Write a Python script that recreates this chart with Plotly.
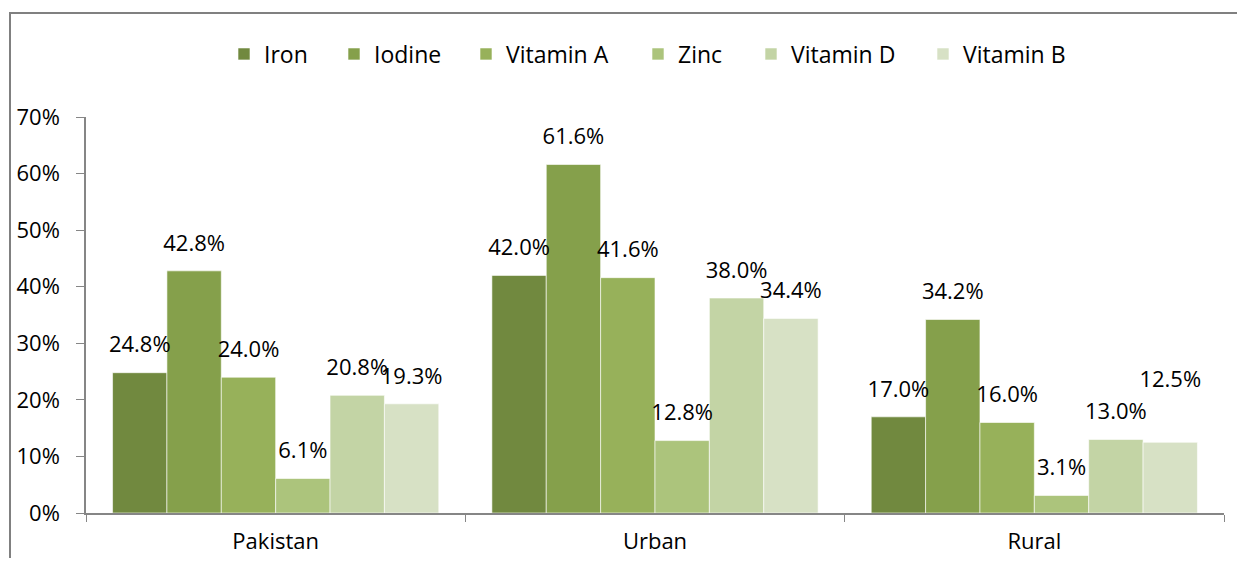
import plotly.graph_objects as go

categories = ["Pakistan", "Urban", "Rural"]
series_names = ["Iron", "Iodine", "Vitamin A", "Zinc", "Vitamin D", "Vitamin B"]
iron = [24.8, 42.0, 17.0]
iodine = [42.8, 61.6, 34.2]
vitamin_a = [24.0, 41.6, 16.0]
zinc = [6.1, 12.8, 3.1]
vitamin_d = [20.8, 38.0, 13.0]
vitamin_b = [19.3, 34.4, 12.5]
y_ticks = [0, 10, 20, 30, 40, 50, 60, 70]

series_values = [iron, iodine, vitamin_a, zinc, vitamin_d, vitamin_b]
colors = ["#71893F", "#85A04B", "#97B15A", "#ACC47C", "#C3D4A5", "#D7E1C5"]
# invisible spacer-marker sizes that lift each value label above its bar (style only)
label_lift = [[22, 22, 22], [22, 22, 22], [22, 22, 22], [22, 22, 22], [22, 22, 22], [22, 22, 78]]
# legend text start positions in page pixels (style only)
legend_px = [264, 374, 506, 678, 791, 963]

FONT = "Open Sans, Lato, sans-serif"
OFF = 8  # page body margin
W, H = 1229, 550
ml, mr, mt, mb = 86 - OFF, 13, 117 - OFF, 45
pw, ph = W - ml - mr, H - mt - mb


def px_x(x):
    return (x - OFF - ml) / pw


def px_y(y):
    return (H - mb - (y - OFF)) / ph


fig = go.Figure()
for i, (name, vals, col) in enumerate(zip(series_names, series_values, colors)):
    lg = "legend" if i == 0 else f"legend{i + 1}"
    fig.add_trace(go.Bar(
        name=name,
        x=categories,
        y=[v / 100 for v in vals],
        marker=dict(color=col, line=dict(color="white", width=0.6)),
        offsetgroup=name,
        legend=lg,
        hoverinfo="x+y+name",
    ))
for i, (name, vals) in enumerate(zip(series_names, series_values)):
    fig.add_trace(go.Scatter(
        x=categories,
        y=[v / 100 for v in vals],
        mode="markers+text",
        text=[f"{v:.1f}%" for v in vals],
        textposition="top center",
        textfont=dict(family=FONT, size=22, color="#000000"),
        marker=dict(size=label_lift[i], opacity=0),
        offsetgroup=name,
        showlegend=False,
        hoverinfo="skip",
        cliponaxis=False,
    ))

fig.add_shape(type="rect", xref="paper", yref="paper",
              x0=px_x(10), x1=px_x(1290), y0=px_y(600), y1=px_y(13),
              line=dict(color="#808080", width=2), fillcolor="rgba(0,0,0,0)")

layout_legends = {}
for i, p in enumerate(legend_px):
    key = "legend" if i == 0 else f"legend{i + 1}"
    layout_legends[key] = dict(
        orientation="h", x=px_x(p - 40), xanchor="left",
        y=px_y(54), yanchor="middle",
        font=dict(family=FONT, size=23, color="#000000"),
        itemwidth=30, bgcolor="rgba(0,0,0,0)",
    )

fig.update_layout(
    width=W, height=H,
    margin=dict(l=ml, r=mr, t=mt, b=mb),
    paper_bgcolor="white", plot_bgcolor="white",
    barmode="group", bargap=0.14, bargroupgap=0,
    scattermode="group", scattergap=0.14,
    font=dict(family=FONT, size=22, color="#000000"),
    showlegend=True,
    xaxis=dict(showline=True, linecolor="#868686", linewidth=1.5,
               ticks="outside", ticklen=7, tickcolor="#868686", tickson="boundaries",
               tickfont=dict(family=FONT, size=22), showgrid=False, automargin=False,
               ticklabelstandoff=8),
    yaxis=dict(range=[0, 0.7], tickvals=[t / 100 for t in y_ticks],
               ticktext=[f"{t}%" for t in y_ticks],
               showline=True, linecolor="#868686", linewidth=1.5,
               ticks="outside", ticklen=8, tickcolor="#868686",
               showgrid=False, zeroline=False, automargin=False,
               tickfont=dict(family=FONT, size=22), ticklabelstandoff=12),
    **layout_legends,
)

fig.write_html("out.html")
